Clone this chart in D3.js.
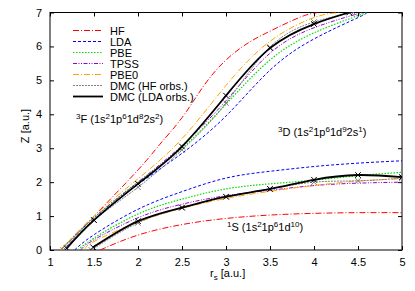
<!DOCTYPE html>
<html>
<head>
<meta charset="utf-8">
<script src="https://cdn.jsdelivr.net/npm/d3@7"></script>
<style>
  body { margin: 0; background: #fff; }
  text { font-family: "Liberation Sans", Arial, sans-serif; fill: #000; }
</style>
</head>
<body>
<div id="container"></div>
<script>
// values: [r_s, Z]
const hfUpper   = [[1.12,0],[1.5,1.0],[2,2.36],[2.25,3.12],[2.5,3.9],[2.75,4.85],[3,5.6],[3.25,6.1],[3.5,6.45],[3.85,6.87],[4.05,7.0]]
const ldaUpper  = [[1.15,0],[1.5,0.9],[2,1.93],[2.5,2.85],[3,3.95],[3.5,5.3],[4,6.22],[4.5,6.85],[4.6,7.0]]
const pbeUpper  = [[1.12,0],[1.5,0.95],[2,2.0],[2.5,3.0],[3,4.3],[3.5,5.6],[4,6.4],[4.6,7.0]]
const tpssUpper = [[1.12,0],[1.5,0.95],[2,2.0],[2.5,3.08],[3,4.4],[3.5,5.8],[4,6.55],[4.55,7.0]]
const pbe0Upper = [[1.12,0],[1.5,1.0],[2,2.1],[2.5,3.28],[3,4.85],[3.5,6.15],[4,6.85],[4.3,7.0]]
const dmcHfUpper  = [[1.15,0],[1.5,0.88],[2,1.85],[2.5,2.95],[3,4.33],[3.5,5.98],[4,6.72],[4.45,7.0]]
const dmcLdaUpper = [[1.19,0.05],[1.5,0.88],[2,1.95],[2.5,3.05],[3,4.55],[3.5,5.95],[4,6.66],[4.4,7.0]]

const hfLower   = [[1.57,0],[2,0.44],[2.5,0.75],[3,0.93],[3.5,1.03],[4,1.08],[4.5,1.1],[5,1.1]]
const ldaLower  = [[1.28,0],[1.5,0.45],[2,1.2],[2.5,1.72],[3,2.12],[3.5,2.32],[4,2.46],[4.5,2.56],[5,2.63]]
const pbeLower  = [[1.32,0],[1.5,0.35],[2,1.06],[2.5,1.5],[3,1.8],[3.5,1.95],[4,2.06],[4.5,2.19],[5,2.29]]
const tpssLower = [[1.35,0],[1.5,0.3],[2,0.95],[2.5,1.35],[3,1.6],[3.5,1.76],[4,1.9],[4.5,1.97],[5,2.0]]
const pbe0Lower = [[1.4,0],[1.5,0.25],[2,0.82],[2.5,1.23],[3,1.52],[3.5,1.73],[4,1.9],[4.5,2.03],[5,2.1]]
const dmcHfLower  = [[1.47,0],[2,0.8],[2.5,1.25],[3,1.57],[3.5,1.8],[4,2.0],[4.5,2.04],[5,2.12]]
const dmcLdaLower = [[1.49,0.08],[2,0.85],[2.5,1.25],[3,1.57],[3.5,1.8],[4,2.07],[4.5,2.21],[5,2.15]]

const xTicks = [1, 1.5, 2, 2.5, 3, 3.5, 4, 4.5, 5]
const yTicks = [0, 1, 2, 3, 4, 5, 6, 7]

const series = [
  { name: "HF", color: "#ff0000", dash: "6,2,1,2", w: 1, upper: hfUpper, lower: hfLower },
  { name: "LDA", color: "#0000ff", dash: "3,2", w: 1, upper: ldaUpper, lower: ldaLower },
  { name: "PBE", color: "#00dd00", dash: "1.5,1.5", w: 1.2, upper: pbeUpper, lower: pbeLower },
  { name: "TPSS", color: "#9400d3", dash: "4,1.5,1,1.5,1,1.5", w: 1, upper: tpssUpper, lower: tpssLower },
  { name: "PBE0", color: "#ffa500", dash: "6,2,1,2", w: 1, upper: pbe0Upper, lower: pbe0Lower },
  { name: "DMC (HF orbs.)", color: "#808080", dash: "2,1", w: 1, upper: dmcHfUpper, lower: dmcHfLower, marks: true },
  { name: "DMC (LDA orbs.)", color: "#000000", dash: null, w: 1.8, upper: dmcLdaUpper, lower: dmcLdaLower, marks: true }
]

const width = 415, height = 291
const margin = { top: 12.5, right: 13, bottom: 41, left: 50 }

const xScale = d3.scaleLinear().domain([1, 5]).range([margin.left, width - margin.right])
const yScale = d3.scaleLinear().domain([0, 7]).range([height - margin.bottom, margin.top])

const svg = d3.select("#container").append("svg")
  .attr("width", width).attr("height", height)

svg.append("clipPath").attr("id", "clip")
  .append("rect")
  .attr("x", margin.left).attr("y", margin.top)
  .attr("width", xScale(5) - xScale(1)).attr("height", yScale(0) - yScale(7))

// axes, ticks pointing inward on all four sides
const fs = "11px"
svg.append("g")
  .attr("transform", `translate(0, ${yScale(0)})`)
  .call(d3.axisBottom(xScale).tickValues(xTicks).tickSizeInner(-4).tickSizeOuter(0).tickPadding(8).tickFormat(d3.format("")))
  .call(g => g.select(".domain").remove())
  .selectAll("text").style("font-size", fs)
svg.append("g")
  .attr("transform", `translate(0, ${yScale(7)})`)
  .call(d3.axisTop(xScale).tickValues(xTicks).tickSizeInner(-4).tickSizeOuter(0).tickFormat(""))
  .call(g => g.select(".domain").remove())
svg.append("g")
  .attr("transform", `translate(${xScale(1)}, 0)`)
  .call(d3.axisLeft(yScale).tickValues(yTicks).tickSizeInner(-4).tickSizeOuter(0).tickPadding(8).tickFormat(d3.format("d")))
  .call(g => g.select(".domain").remove())
  .selectAll("text").style("font-size", fs)
svg.append("g")
  .attr("transform", `translate(${xScale(5)}, 0)`)
  .call(d3.axisRight(yScale).tickValues(yTicks).tickSizeInner(-4).tickSizeOuter(0).tickFormat(""))
  .call(g => g.select(".domain").remove())

svg.append("rect")
  .attr("x", xScale(1)).attr("y", yScale(7))
  .attr("width", xScale(5) - xScale(1)).attr("height", yScale(0) - yScale(7))
  .attr("fill", "none").attr("stroke", "#000")

// curves
const lineGen = d3.line()
  .x(d => xScale(d[0]))
  .y(d => yScale(d[1]))
  .curve(d3.curveNatural)

const plot = svg.append("g").attr("clip-path", "url(#clip)")
series.forEach(s => {
  [s.upper, s.lower].forEach(pts => {
    plot.append("path")
      .attr("d", lineGen(pts))
      .attr("fill", "none")
      .attr("stroke", s.color)
      .attr("stroke-width", s.w)
      .attr("stroke-dasharray", s.dash)
    if (s.marks) {
      plot.selectAll(null)
        .data(pts)
        .join("path")
        .attr("transform", d => `translate(${xScale(d[0])}, ${yScale(d[1])})`)
        .attr("d", d3.symbol(d3.symbolX, 22))
        .attr("fill", "none")
        .attr("stroke", s.color)
        .attr("stroke-width", 1)
    }
  })
})

// legend
const legend = svg.append("g")
series.forEach((s, i) => {
  const ly = 30.5 + i * 11
  legend.append("line")
    .attr("x1", 73).attr("x2", 103).attr("y1", ly).attr("y2", ly)
    .attr("stroke", s.color).attr("stroke-width", s.w)
    .attr("stroke-dasharray", s.dash)
  legend.append("text")
    .attr("x", 110).attr("y", ly + 4)
    .style("font-size", fs)
    .text(s.name)
})

// state labels, superscripts as raised tspans with absolute y
function stateLabel(x, y, parts) {
  const t = svg.append("text").attr("x", x).attr("y", y).style("font-size", fs)
  parts.forEach(p => {
    t.append("tspan")
      .attr("y", p.sup ? y - 4 : y)
      .style("font-size", p.sup ? "8px" : fs)
      .text(p.t)
  })
}
stateLabel(76, 123, [{ t: "3", sup: true }, { t: "F (1s" }, { t: "2", sup: true }, { t: "1p" }, { t: "6", sup: true }, { t: "1d" }, { t: "8", sup: true }, { t: "2s" }, { t: "2", sup: true }, { t: ")" }])
stateLabel(278, 136, [{ t: "3", sup: true }, { t: "D (1s" }, { t: "2", sup: true }, { t: "1p" }, { t: "6", sup: true }, { t: "1d" }, { t: "9", sup: true }, { t: "2s" }, { t: "1", sup: true }, { t: ")" }])
stateLabel(227, 231, [{ t: "1", sup: true }, { t: "S (1s" }, { t: "2", sup: true }, { t: "1p" }, { t: "6", sup: true }, { t: "1d" }, { t: "10", sup: true }, { t: ")" }])

// axis titles
stateLabel(210, 277, [{ t: "r" }, { t: "s", sup: true }, { t: " [a.u.]" }])
svg.selectAll("text").filter(function () { return this.textContent === "rs [a.u.]" })
  .select("tspan:nth-child(2)").attr("y", 280)

svg.append("text")
  .attr("transform", `translate(${29}, ${126}) rotate(-90)`)
  .attr("text-anchor", "middle").style("font-size", fs)
  .text("Z [a.u.]")
</script>
</body>
</html>
